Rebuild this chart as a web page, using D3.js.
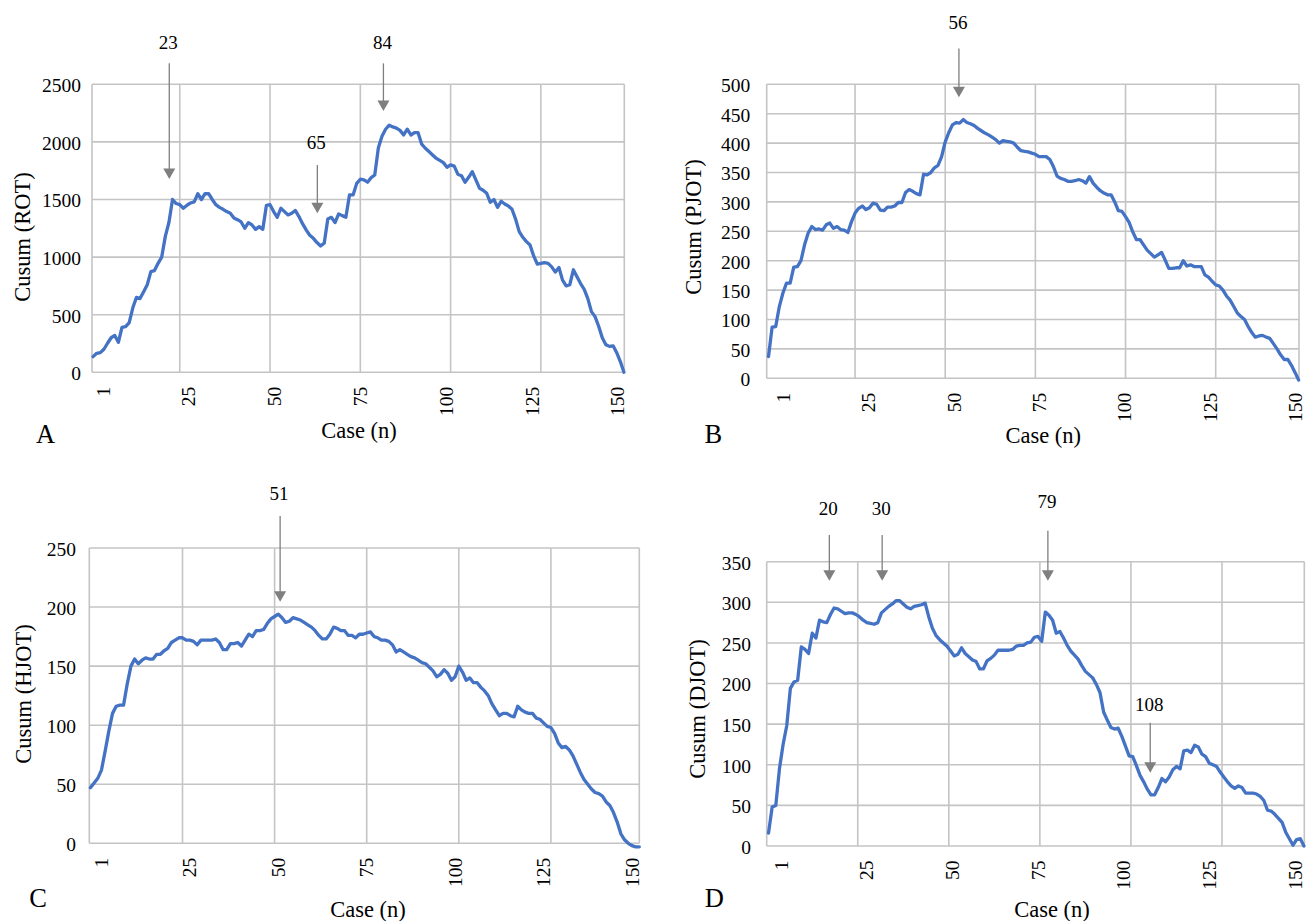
<!DOCTYPE html>
<html>
<head>
<meta charset="utf-8">
<script src="https://cdn.jsdelivr.net/npm/d3@7"></script>
<style>
  body { margin: 0; background: #fff; }
</style>
</head>
<body>
<svg id="chart" width="1306" height="921"></svg>
<script>
// tick labels shown under every panel
const xTickLabels = ['1', '25', '50', '75', '100', '125', '150'];
const xGridCases = [25, 50, 75, 100, 125];

// cusum curves, one value per case
const rotCusum = [
  136, 165, 171, 200, 252, 300, 320, 260, 390, 396,
  431, 560, 650, 640, 700, 760, 874, 883, 946, 1000,
  1180, 1300, 1500, 1465, 1455, 1424, 1450, 1470, 1480, 1550,
  1500, 1550, 1550, 1500, 1455, 1432, 1415, 1395, 1380, 1340,
  1325, 1305, 1250, 1299, 1279, 1241, 1265, 1241, 1450, 1455,
  1395, 1346, 1424, 1395, 1366, 1380, 1405, 1352, 1290, 1236,
  1190, 1163, 1126, 1097, 1120, 1330, 1345, 1300, 1375, 1360,
  1346, 1540, 1540, 1640, 1676, 1670, 1650, 1690, 1713, 1950,
  2050, 2110, 2145, 2130, 2120, 2100, 2060, 2110, 2060, 2080,
  2080, 1980, 1945, 1916, 1887, 1858, 1840, 1820, 1780, 1800,
  1790, 1720, 1707, 1650, 1693, 1742, 1670, 1598, 1580, 1554,
  1476, 1500, 1432, 1485, 1461, 1444, 1415, 1330, 1221, 1172,
  1134, 1105, 1010, 940, 945, 952, 946, 915, 870, 910,
  800, 750, 760, 890, 830, 770, 720, 640, 527, 483,
  400, 300, 240, 225, 230, 170, 93, 0
];

const pjotCusum = [
  37, 87, 88, 122, 145, 162, 162, 189, 190, 200,
  227, 247, 258, 253, 254, 252, 261, 264, 255, 258,
  253, 252, 248, 266, 281, 289, 293, 287, 290, 298,
  296, 286, 285, 291, 291, 293, 299, 299, 316, 321,
  318, 314, 312, 347, 346, 350, 358, 362, 377, 402,
  418, 431, 435, 434, 440, 435, 433, 430, 425, 421,
  417, 414, 410, 406, 400, 404, 403, 402, 400, 393,
  387, 386, 385, 383, 381, 377, 377, 377, 372, 360,
  344, 340, 338, 335, 335, 336, 338, 336, 332, 343,
  332, 325, 319, 315, 312, 312, 300, 285, 284, 275,
  265, 249, 236, 236, 227, 218, 212, 206, 210, 214,
  201, 187, 187, 188, 188, 200, 191, 193, 190, 190,
  190, 176, 172, 165, 159, 157, 150, 140, 133, 122,
  111, 105, 100, 88, 78, 70, 72, 73, 70, 68,
  59, 50, 40, 32, 32, 22, 10, -3
];

const hjotCusum = [
  47, 51, 55, 62, 78, 95, 110, 116, 117, 117,
  135, 150, 156, 152, 155, 157, 156, 156, 160, 160,
  163, 165, 170, 172, 174, 174, 172, 172, 171, 168,
  172, 172, 172, 172, 173, 170, 164, 164, 169, 169,
  170, 167, 172, 177, 175, 180, 180, 181, 186, 190,
  192, 194, 191, 187, 188, 191, 190, 189, 187, 185,
  183, 180, 176, 173, 173, 177, 183, 182, 180, 180,
  176, 176, 174, 177, 177, 178, 179, 175, 174, 172,
  172, 171, 168, 162, 164, 162, 160, 158, 157, 155,
  153, 152, 149, 146, 141, 143, 147, 144, 138, 141,
  150, 145, 138, 140, 136, 136, 132, 129, 125, 118,
  113, 108, 110, 110, 108, 107, 116, 113, 111, 110,
  110, 106, 105, 102, 99, 98, 93, 85, 81, 82,
  79, 74, 67, 60, 54, 50, 46, 43, 42, 40,
  35, 32, 26, 18, 8, 3, 0, -2, -3, -3
];

const djotCusum = [
  16, 48, 50, 95, 125, 148, 194, 202, 204, 245,
  242, 237, 262, 256, 278, 276, 275, 285, 293, 292,
  289, 286, 287, 287, 285, 282, 278, 275, 274, 273,
  275, 287, 291, 295, 298, 302, 302, 298, 294, 292,
  295, 296, 297, 299, 282, 268, 259, 254, 250, 246,
  240, 234, 236, 244, 237, 233, 229, 227, 218, 218,
  228, 231, 235, 241, 241, 241, 241, 242, 246, 247,
  247, 250, 251, 257, 258, 252, 288, 284, 278, 262,
  264, 256, 247, 240, 235, 230, 222, 215, 211, 207,
  199, 189, 165, 155, 146, 144, 145, 135, 123, 111,
  110, 99, 87, 79, 70, 63, 63, 72, 83, 79,
  85, 94, 98, 95, 117, 118, 115, 124, 122, 113,
  110, 102, 100, 98, 91, 85, 79, 74, 71, 74,
  72, 65, 65, 65, 64, 61, 56, 44, 43, 39,
  34, 29, 17, 9, 1, 8, 9, 0
];

// arrows: case position, arrow tip / top and label baseline in y units
const rotMarks = [
  { label: '23', at: 22.1, tip: 1678, top: 2682, text: 2804 },
  { label: '65', at: 63.1, tip: 1380, top: 1800, text: 1936 },
  { label: '84', at: 81.4, tip: 2268, top: 2682, text: 2804 }
];
const pjotMarks = [
  { label: '56', at: 53.8, tip: 478, top: 561, text: 594 }
];
const hjotMarks = [
  { label: '51', at: 51.5, tip: 204.5, top: 277, text: 291 }
];
const djotMarks = [
  { label: '20', at: 17.2, tip: 326.6, top: 382.9, text: 407.5 },
  { label: '30', at: 31.7, tip: 326.6, top: 382.9, text: 407.5 },
  { label: '79', at: 77.2, tip: 326.6, top: 388.2, text: 415.7 },
  { label: '108', at: 105.3, tip: 90.2, top: 151.8, text: 166.6 }
];

const panels = [
  { letter: 'A', yTitle: 'Cusum (ROT)', values: rotCusum, marks: rotMarks,
    xStart: 1, xDomain: [0.7, 148.1], yMax: 2500, yStep: 500,
    box: { l: 92, r: 624.3, t: 84.3, b: 372.3 }, yLabelGap: 11, labelInset: [10.8, 6.8],
    yTitlePos: [22, 237], xTitlePos: [359, 438], letterPos: [45.5, 443] },
  { letter: 'B', yTitle: 'Cusum (PJOT)', values: pjotCusum, marks: pjotMarks,
    xStart: 1, xDomain: [0.5, 148.1], yMax: 500, yStep: 50,
    box: { l: 766.7, r: 1299, t: 84.3, b: 378.3 }, yLabelGap: 16.5, labelInset: [16.6, 4],
    yTitlePos: [693.5, 227], xTitlePos: [1043.3, 443], letterPos: [713.3, 442.7] },
  { letter: 'C', yTitle: 'Cusum (HJOT)', values: hjotCusum, marks: hjotMarks,
    xStart: 0, xDomain: [-0.3, 149], yMax: 250, yStep: 50,
    box: { l: 89.3, r: 639.3, t: 548, b: 843.3 }, yLabelGap: 13.3, labelInset: [11.7, 7.3],
    yTitlePos: [23.5, 694], xTitlePos: [368, 916.7], letterPos: [38, 906.7] },
  { letter: 'D', yTitle: 'Cusum (DJOT)', values: djotCusum, marks: djotMarks,
    xStart: 0.5, xDomain: [0, 147.6], yMax: 350, yStep: 50,
    box: { l: 766.7, r: 1304.3, t: 561.7, b: 846 }, yLabelGap: 15.7, labelInset: [14.1, 9.3],
    yTitlePos: [697, 709], xTitlePos: [1052, 916.7], letterPos: [714.2, 906.7] }
];

const fontFamily = '"Liberation Serif", "Times New Roman", Times, "DejaVu Serif", serif';
const gridColor = '#c4c4c4';
const lineColor = '#4472c4';
const arrowColor = '#7f7f7f';

const svg = d3.select('#chart')
  .attr('font-family', fontFamily);

panels.forEach((p) => {
  const x = d3.scaleLinear().domain(p.xDomain).range([p.box.l, p.box.r]);
  const y = d3.scaleLinear().domain([0, p.yMax]).range([p.box.b, p.box.t]);
  const labelX = d3.scalePoint()
    .domain(xTickLabels)
    .range([p.box.l + p.labelInset[0], p.box.r - p.labelInset[1]]);
  const g = svg.append('g');

  const yTicks = d3.range(0, p.yMax + 1, p.yStep);

  // grid
  g.selectAll('.hgrid')
    .data(yTicks)
    .join('line')
    .attr('x1', p.box.l).attr('x2', p.box.r)
    .attr('y1', (d) => y(d)).attr('y2', (d) => y(d))
    .attr('stroke', gridColor).attr('stroke-width', 1.6);

  g.selectAll('.vgrid')
    .data(xGridCases.concat(p.xDomain))
    .join('line')
    .attr('x1', (d) => x(d)).attr('x2', (d) => x(d))
    .attr('y1', p.box.t).attr('y2', p.box.b)
    .attr('stroke', gridColor).attr('stroke-width', 1.6);

  // y tick labels
  g.selectAll('.ylab')
    .data(yTicks)
    .join('text')
    .attr('font-family', fontFamily)
    .attr('x', p.box.l - p.yLabelGap)
    .attr('y', (d) => y(d))
    .attr('dy', '0.4em')
    .attr('text-anchor', 'end')
    .attr('font-size', 19.5)
    .text((d) => d);

  // x tick labels, rotated
  g.selectAll('.xlab')
    .data(xTickLabels)
    .join('text')
    .attr('font-family', fontFamily)
    .attr('transform', (d) => `translate(${labelX(d)},${p.box.b + 14.5}) rotate(-90)`)
    .attr('dy', '0.35em')
    .attr('text-anchor', 'end')
    .attr('font-size', 19.5)
    .text((d) => d);

  // curve
  const line = d3.line()
    .x((d, i) => x(p.xStart + i))
    .y((d) => y(d));

  g.append('path')
    .datum(p.values)
    .attr('d', line)
    .attr('fill', 'none')
    .attr('stroke', lineColor)
    .attr('stroke-width', 3.3)
    .attr('stroke-linejoin', 'round')
    .attr('stroke-linecap', 'round');

  // arrows
  p.marks.forEach((m) => {
    const ax = x(m.at);
    const tipY = y(m.tip);
    g.append('line')
      .attr('x1', ax).attr('x2', ax)
      .attr('y1', y(m.top)).attr('y2', tipY - 9)
      .attr('stroke', arrowColor).attr('stroke-width', 1.3);
    g.append('path')
      .attr('d', `M${ax - 6},${tipY - 10.5}L${ax + 6},${tipY - 10.5}L${ax},${tipY}Z`)
      .attr('fill', arrowColor);
    g.append('text')
      .attr('font-family', fontFamily)
      .attr('x', ax - 1)
      .attr('y', y(m.text))
      .attr('text-anchor', 'middle')
      .attr('font-size', 19)
      .text(m.label);
  });

  // titles
  g.append('text')
    .attr('font-family', fontFamily)
    .attr('transform', `translate(${p.yTitlePos[0]},${p.yTitlePos[1]}) rotate(-90)`)
    .attr('dy', '0.35em')
    .attr('text-anchor', 'middle')
    .attr('font-size', 22.5)
    .text(p.yTitle);

  g.append('text')
    .attr('font-family', fontFamily)
    .attr('x', p.xTitlePos[0])
    .attr('y', p.xTitlePos[1])
    .attr('text-anchor', 'middle')
    .attr('font-size', 22.5)
    .text('Case (n)');

  g.append('text')
    .attr('font-family', fontFamily)
    .attr('x', p.letterPos[0])
    .attr('y', p.letterPos[1])
    .attr('text-anchor', 'middle')
    .attr('font-size', 26.5)
    .text(p.letter);
});
</script>
</body>
</html>
